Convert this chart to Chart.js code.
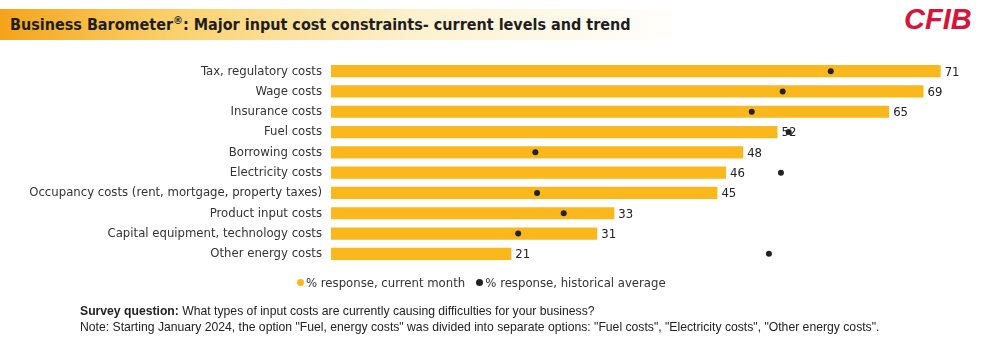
<!DOCTYPE html>
<html lang="en">
<head>
    <meta charset="UTF-8">
    <title>Business Barometer - input cost constraints</title>
    <script src="https://cdn.jsdelivr.net/npm/chart.js"></script>
    <style>
        body { margin: 0; background: #fff; }
        #wrap { position: relative; width: 994px; height: 338px; overflow: hidden; font-family: "DejaVu Sans Condensed", sans-serif; color: #222; }
        #band { position: absolute; left: 0; top: 9px; width: 680px; height: 31px;
                background: linear-gradient(to right, #f5a41a 0%, #fbd06a 25%, #fdf0cc 60%, #ffffff 100%); }
        #title { position: absolute; left: 10px; top: 14px; font-size: 16px; font-weight: bold; white-space: nowrap; color: #1e1e1e; }
        #title sup { font-size: 11px; }
        #logo { position: absolute; left: 904px; top: 3px; font-family: "Liberation Sans", sans-serif; font-size: 29px;
                font-weight: bold; font-style: italic; color: #d7153a; letter-spacing: 0px; }
        #legend { position: absolute; left: 297px; top: 275px; font-size: 13px; color: #333; white-space: nowrap; }
        #legend span.dot { display: inline-block; width: 7px; height: 7px; border-radius: 50%; margin-right: 2px; vertical-align: 1px; }
        #note { position: absolute; left: 80px; top: 303px; font-family: "Liberation Sans Narrow", sans-serif; font-size: 12.2px; line-height: 16px; color: #222; white-space: nowrap; }
        canvas { position: absolute; left: 0; top: 0; }
    </style>
</head>
<body>
<div id="wrap">
    <div id="band"></div>
    <div id="title">Business Barometer<sup>®</sup>: Major input cost constraints- current levels and trend</div>
    <div id="logo">CFIB</div>
    <canvas id="chart" width="994" height="338"></canvas>
    <div id="legend">
        <span class="dot" style="background:#fbb81c"></span>% response, current month&nbsp;&nbsp;
        <span class="dot" style="background:#222"></span>% response, historical average
    </div>
    <div id="note">
        <b>Survey question:</b> What types of input costs are currently causing difficulties for your business?<br>
        Note: Starting January 2024, the option "Fuel, energy costs" was divided into separate options: "Fuel costs", "Electricity costs", "Other energy costs".
    </div>
</div>

<script>
    // chart data
    const categories = [
        'Tax, regulatory costs',
        'Wage costs',
        'Insurance costs',
        'Fuel costs',
        'Borrowing costs',
        'Electricity costs',
        'Occupancy costs (rent, mortgage, property taxes)',
        'Product input costs',
        'Capital equipment, technology costs',
        'Other energy costs'
    ];
    const currentMonth = [71, 69, 65, 52, 48, 46, 45, 33, 31, 21];
    const historicalAvg = [58.2, 52.6, 49, 53.3, 23.8, 52.4, 24, 27.1, 21.8, 51];

    const barColor = '#fbb81c';
    const dotColor = '#222222';
    const labelFont = { family: 'DejaVu Sans Condensed', size: 13 };

    // draws the value next to the end of each bar
    const barValueLabels = {
        id: 'barValueLabels',
        afterDatasetsDraw(chart) {
            const ctx = chart.ctx;
            const meta = chart.getDatasetMeta(0);
            ctx.save();
            ctx.font = labelFont.size + 'px ' + labelFont.family;
            ctx.fillStyle = '#222';
            ctx.textAlign = 'left';
            ctx.textBaseline = 'middle';
            meta.data.forEach((bar, i) => {
                ctx.fillText(currentMonth[i], bar.x + 4, bar.y + 1);
            });
            ctx.restore();
        }
    };

    const ctx = document.getElementById('chart').getContext('2d');
    new Chart(ctx, {
        type: 'bar',
        data: {
            labels: categories,
            datasets: [
                {
                    label: '% response, current month',
                    data: currentMonth,
                    backgroundColor: barColor,
                    barPercentage: 0.6,
                    categoryPercentage: 1.0,
                    order: 2
                },
                {
                    type: 'line',
                    label: '% response, historical average',
                    data: historicalAvg,
                    showLine: false,
                    pointRadius: 3,
                    pointBackgroundColor: dotColor,
                    pointBorderWidth: 0,
                    order: 1
                }
            ]
        },
        options: {
            indexAxis: 'y',
            responsive: false,
            animation: false,
            layout: { padding: { left: 0, right: 19, top: 61, bottom: 74 } },
            plugins: {
                legend: { display: false },
                tooltip: { enabled: false }
            },
            scales: {
                x: { display: false, min: 0, max: 75 },
                y: {
                    grid: { display: false, drawTicks: false },
                    border: { display: false },
                    ticks: { color: '#333', font: labelFont, padding: 9 },
                    afterFit(scale) { scale.width = 331; }
                }
            }
        },
        plugins: [barValueLabels]
    });
</script>
</body>
</html>
